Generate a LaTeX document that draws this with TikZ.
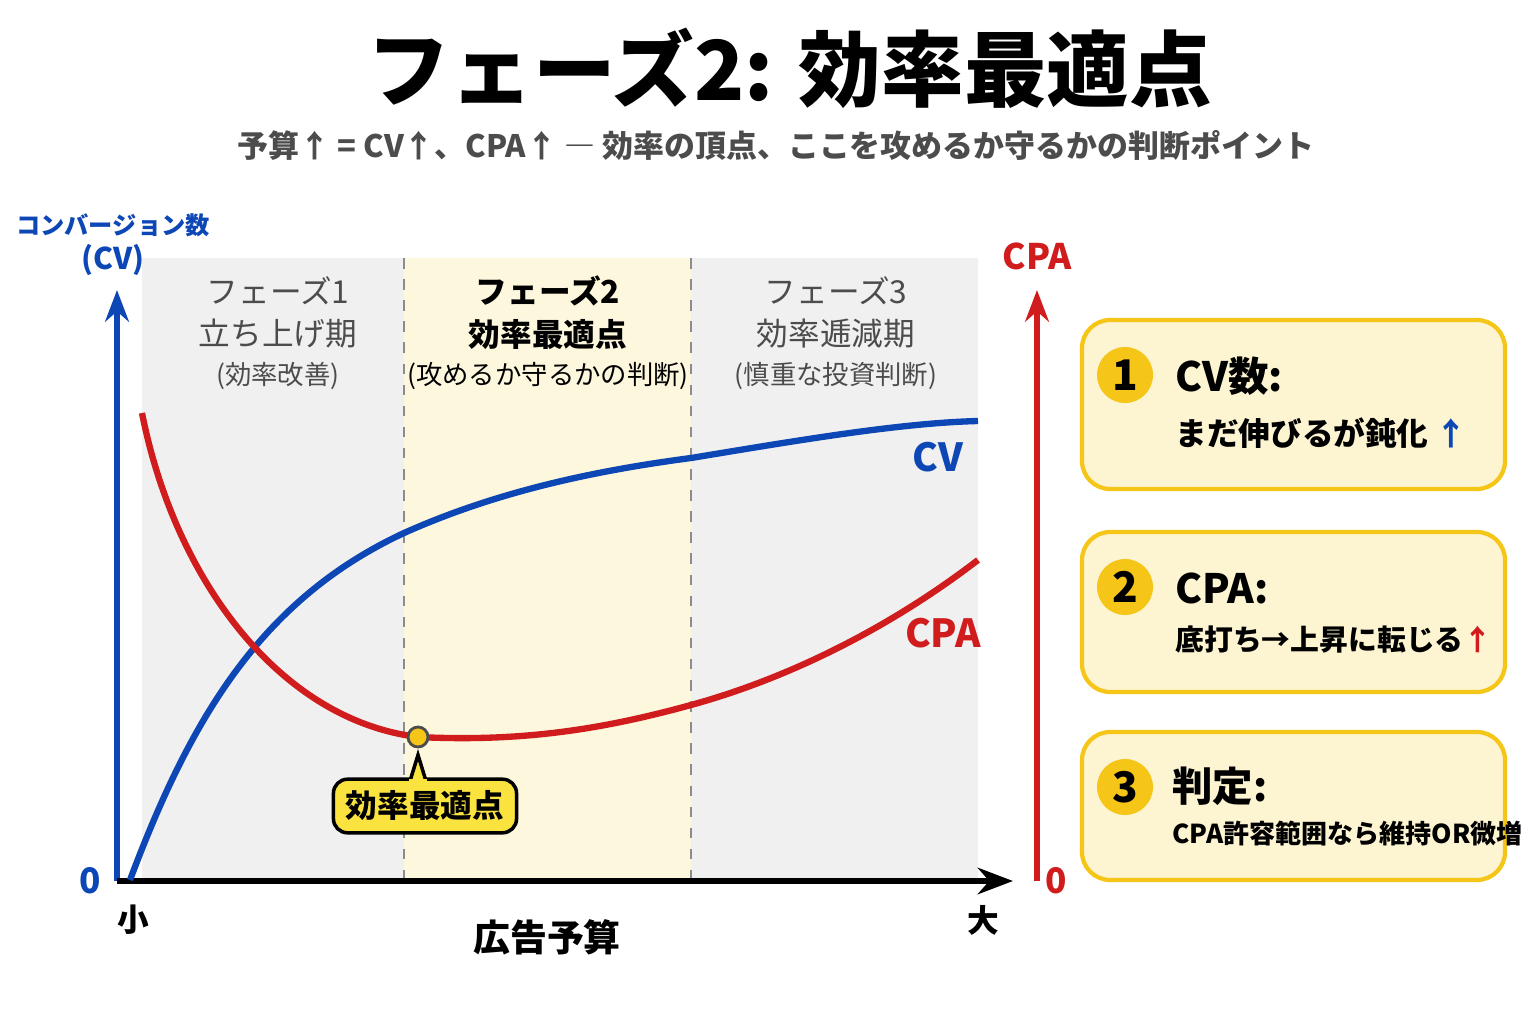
\documentclass[tikz,border=0pt]{standalone}
\usepackage{fontspec}
\setmainfont{Noto Sans CJK JP}
\usetikzlibrary{arrows.meta,positioning}
\definecolor{cvblue}{HTML}{0D47B5}
\definecolor{cpared}{HTML}{D01C1C}
\definecolor{bandgray}{HTML}{F0F0F0}
\definecolor{bandyel}{HTML}{FCF7DD}
\definecolor{cardfill}{HTML}{FDF5D2}
\definecolor{gold}{HTML}{F5C518}
\tikzset{
  phase/.style={font=\fontsize{9}{11}\selectfont,text=black!70,align=center},
  card/.style={draw=gold,line width=1.2pt,fill=cardfill,rounded corners=8pt},
  num/.style={circle,fill=gold,minimum size=0.56cm,inner sep=0pt,font=\bfseries\fontsize{12}{12}\selectfont},
  head/.style={anchor=west,font=\bfseries\fontsize{11.5}{12}\selectfont},
  body/.style={anchor=west,font=\bfseries\fontsize{9}{10}\selectfont}
}
\begin{document}
\begin{tikzpicture}[x=0.01cm,y=-0.01cm]
\useasboundingbox[fill=white] (0,0) rectangle (1536,1024);
% title
\node (title) at (790,68) {\bfseries\fontsize{23.5}{24}\selectfont フェーズ2: 効率最適点};
\node[text=black!70] (sub) at (776,145) {\bfseries\fontsize{8.8}{10}\selectfont 予算↑ = CV↑、CPA↑ ― 効率の頂点、ここを攻めるか守るかの判断ポイント};
% bands
\fill[bandgray] (142,258) rectangle (978,880);
\fill[bandyel] (404,258) rectangle (691,880);
\draw[dashed,black!45] (404,258) -- (404,880) (691,258) -- (691,880);
\node[phase] (p1) at (278,333) {フェーズ1\\[1pt]立ち上げ期\\[0pt]{\fontsize{7.5}{10}\selectfont (効率改善)}};
\node[phase,text=black] (p2) at (548,333) {\bfseries フェーズ2\\[1pt]\bfseries 効率最適点\\[0pt]{\fontsize{7.5}{10}\selectfont (攻めるか守るかの判断)}};
\node[phase] (p3) at (836,333) {フェーズ3\\[1pt]効率逓減期\\[0pt]{\fontsize{7.5}{10}\selectfont (慎重な投資判断)}};
% axes
\coordinate (o) at (117,881);
\coordinate (xend) at (1013,881);
\coordinate (yend) at (117,290);
\coordinate (ro) at (1037,881);
\coordinate (rend) at (1037,290);
\draw[cvblue,line width=1.8pt,-{Stealth[length=9pt]}] (o) -- (yend);
\draw[cpared,line width=1.8pt,-{Stealth[length=9pt]}] (ro) -- (rend);
\draw[black,line width=1.8pt,-{Stealth[length=10pt]}] (o) -- (xend);
\node[text=cvblue,font=\bfseries\fontsize{6.9}{10}\selectfont,align=center] (ylab) at (113,245) {コンバージョン数\\{\fontsize{8.5}{10}\selectfont (CV)}};
\node[text=cpared,font=\bfseries\fontsize{10}{10}\selectfont] (rlab) at (1037,256) {CPA};
\node[text=cvblue,font=\bfseries\fontsize{10}{10}\selectfont] (y0) at (90,881) {0};
\node[text=cpared,font=\bfseries\fontsize{10}{10}\selectfont] (r0) at (1056,881) {0};
\node[font=\bfseries\fontsize{9}{9}\selectfont] (small) at (133,920) {小};
\node[font=\bfseries\fontsize{9}{9}\selectfont] (large) at (983,920) {大};
\node[font=\bfseries\fontsize{10.5}{11}\selectfont] (xlab) at (547,937) {広告予算};
% curves
\draw[cvblue,line width=1.8pt] (130,880) .. controls (190,720) and (260,600) .. (404,533)
  .. controls (500,490) and (600,470) .. (691,458) .. controls (800,440) and (900,423) .. (978,421);
\draw[cpared,line width=1.8pt] (142,413) .. controls (175,580) and (280,720) .. (418,737)
  .. controls (520,742) and (600,730) .. (691,705) .. controls (800,675) and (900,620) .. (978,560);
\node[text=cvblue,font=\bfseries\fontsize{11}{11}\selectfont] (cvl) at (938,457) {CV};
\node[text=cpared,font=\bfseries\fontsize{11}{11}\selectfont] (cpal) at (943,633) {CPA};
% optimum
\node[draw=black,line width=1pt,fill=gold!60!yellow!80!white,rounded corners=4pt,minimum width=1.83cm,minimum height=0.52cm,font=\bfseries\fontsize{9}{9}\selectfont] (opt) at (425,806) {効率最適点};
\filldraw[draw=black,line width=1pt,fill=gold!60!yellow!80!white] (410,781) -- (418,755) -- (426,781);
\fill[gold!60!yellow!80!white] (409,779) rectangle (427,783);
\node[circle,draw=black!70,fill=gold,minimum size=0.2cm,inner sep=0pt,line width=0.8pt] (pt) at (418,737) {};
% cards
\draw[card] (1082,320) rectangle (1505,489);
\draw[card] (1082,532) rectangle (1505,692);
\draw[card] (1082,732) rectangle (1505,880);
\node[num] (n1) at (1125,375) {1};
\node[num] (n2) at (1125,587) {2};
\node[num] (n3) at (1125,787) {3};
\node[head] (h1) at (1163,376) {CV数:};
\node[body] (b1) at (1163,433) {まだ伸びるが鈍化 \textcolor{cvblue}{↑}};
\node[head] (h2) at (1163,588) {CPA:};
\node[body,font=\bfseries\fontsize{8.2}{9}\selectfont] (b2) at (1163,640) {底打ち→上昇に転じる\textcolor{cpared}{↑}};
\node[head] (h3) at (1160,786) {判定:};
\node[body,font=\bfseries\fontsize{7.4}{8}\selectfont] (b3) at (1160,834) {CPA許容範囲なら維持OR微増};
\end{tikzpicture}
\end{document}
